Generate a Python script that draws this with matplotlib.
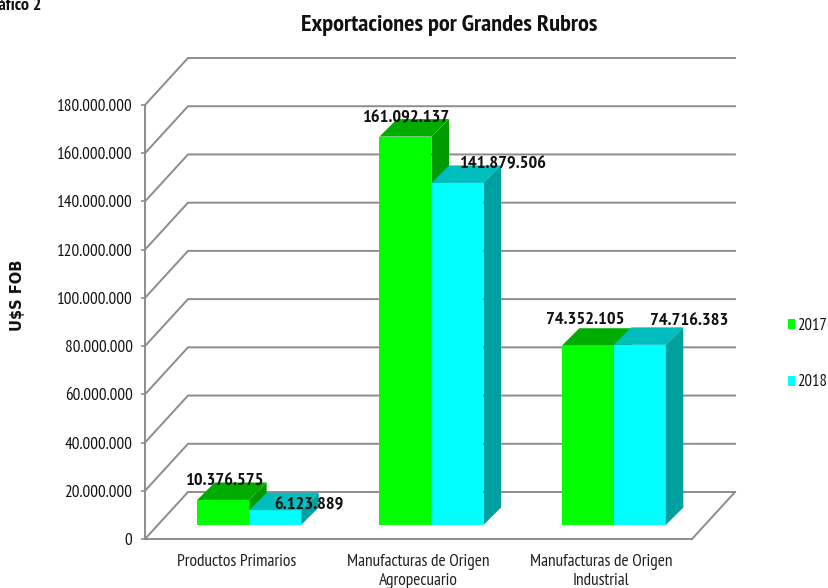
import matplotlib
matplotlib.use("Agg")
import matplotlib.pyplot as plt
from matplotlib.ticker import FuncFormatter
from matplotlib.patches import Patch

categories = ["Productos Primarios", "Manufacturas de Origen\nAgropecuario", "Manufacturas de Origen\nIndustrial"]
years = ["2017", "2018"]
values_2017 = [10376575, 161092137, 74352105]
values_2018 = [6123889, 141879506, 74716383]
y_ticks = list(range(0, 180000001, 20000000))

W, H = 829, 588
NARROW = ["PT Sans Narrow", "Archivo Narrow", "Liberation Sans", "DejaVu Sans"]
plt.rcParams["font.family"] = NARROW

fig = plt.figure(figsize=(W / 100, H / 100), dpi=100, facecolor="white")
L, R, T, B = 145, 692, 105, 539
ax = fig.add_axes([L / W, 1 - B / H, (R - L) / W, (B - T) / H])
ax.set_xlim(-0.5, 2.5)
ax.set_ylim(0, 180000000)
ax.set_facecolor("none")

px_x = 3.0 / (R - L)
px_y = 180000000 / (B - T)

GRID = "#8c8c8c"
wall_dx, wall_dy = 43 * px_x, 47 * px_y
base_dx, base_dy = 13 * px_x, 14 * px_y
depth_dx, depth_dy = 17.5 * px_x, 17.5 * px_y
bar_w = 52 * px_x

# walls
for t in y_ticks:
    ax.plot([-0.5, -0.5 + wall_dx, 2.5 + wall_dx], [t, t + wall_dy, t + wall_dy],
            color=GRID, lw=1.4, clip_on=False, zorder=1, solid_joinstyle="miter")
ax.plot([2.5, 2.5 + wall_dx], [0, wall_dy], color=GRID, lw=1.4, clip_on=False, zorder=1)

COLORS = [("#00ff00", "#00ac00", "#009b00"), ("#00ffff", "#00bebe", "#00a0a0")]
# label offsets in pixels from the bar's top front centre
OFFSETS = [[(1, 19), (34, 5)], [(0, 18), (45, 19)], [(-3, 26), (49, 24)]]

for s, vals in enumerate([values_2017, values_2018]):
    front, top, side = COLORS[s]
    for i, v in enumerate(vals):
        x0 = i + base_dx + (s - 1) * bar_w
        x1 = x0 + bar_w
        y0 = base_dy
        y1 = base_dy + v
        z = 3 + i * 3 + s * 3
        ax.bar(x0, v, width=bar_w, bottom=y0, align="edge", color=front, lw=0, zorder=z, clip_on=False)
        ax.fill([x0, x1, x1 + depth_dx, x0 + depth_dx], [y1, y1, y1 + depth_dy, y1 + depth_dy],
                color=top, lw=0, zorder=z, clip_on=False)
        ax.fill([x1, x1 + depth_dx, x1 + depth_dx, x1], [y0, y0 + depth_dy, y1 + depth_dy, y1],
                color=side, lw=0, zorder=z, clip_on=False)
        label = f"{v:,}".replace(",", ".")
        ox, oy = OFFSETS[i][s]
        ax.annotate(label, xy=((x0 + x1) / 2, y1), xytext=(ox * 0.72, oy * 0.72), textcoords="offset points",
                    ha="center", va="center", fontsize=13.2, fontweight="bold", color="#111111",
                    zorder=50, annotation_clip=False)

# axes
for name in ("top", "right"):
    ax.spines[name].set_visible(False)
for name in ("left", "bottom"):
    ax.spines[name].set_color(GRID)
    ax.spines[name].set_linewidth(1.4)
    ax.spines[name].set_zorder(2)
ax.set_yticks(y_ticks)
ax.yaxis.set_major_formatter(FuncFormatter(lambda v, _: f"{int(v):,}".replace(",", ".")))
ax.tick_params(axis="y", length=3, width=1.2, color=GRID, labelsize=12.3, pad=6, labelcolor="#111111")
ax.set_xticks(range(3))
ax.set_xticklabels(categories, fontsize=12.5, color="#222222", linespacing=1.2)
ax.tick_params(axis="x", length=0, pad=11)

# texts
fig.text(449 / W, 1 - 26 / H, "Exportaciones por Grandes Rubros", ha="center", va="center",
         fontsize=17.6, fontweight="bold", color="#111111")
fig.text(41 / W, 1 - 6 / H, "Gráfico 2", ha="right", va="center", fontsize=13, fontweight="bold", color="#111111")
fig.text(18 / W, 1 - 295 / H, "U$S FOB", rotation=90, ha="center", va="center", fontsize=10.5,
         fontweight="bold", family=["DejaVu Sans"], color="#111111")

handles = [Patch(color=COLORS[k][0], lw=0, label=years[k]) for k in range(2)]
fig.legend(handles=handles, loc="center left", bbox_to_anchor=(788 / W, 1 - 354 / H), frameon=False,
           fontsize=12, handlelength=0.42, handleheight=0.55, handletextpad=0.15, labelspacing=2.45,
           borderpad=0, borderaxespad=0, labelcolor="#111111")

fig.savefig("out.png", dpi=100)
